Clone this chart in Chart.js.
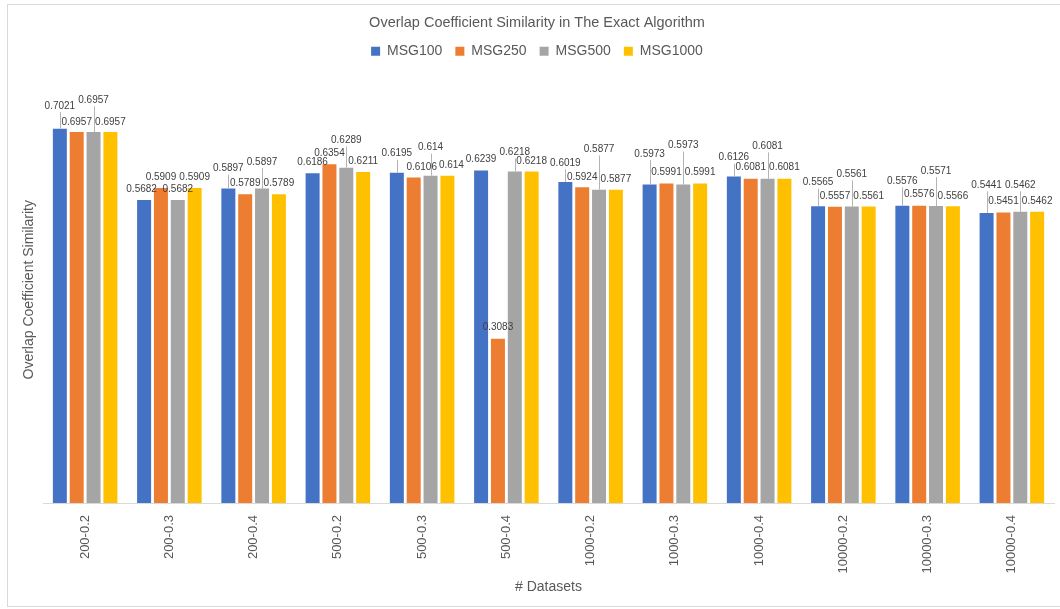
<!DOCTYPE html>
<html>
<head>
<meta charset="utf-8">
<title>Overlap Coefficient Similarity in The Exact Algorithm</title>
<script src="https://cdn.jsdelivr.net/npm/chart.js@4/dist/chart.umd.min.js"></script>
<style>
  html, body { margin: 0; padding: 0; background: #ffffff; }
  #wrap { position: relative; width: 1060px; height: 609px; }
</style>
</head>
<body>
<div id="wrap"><canvas id="chart" width="1060" height="609"></canvas></div>
<script>
// Dataset categories (graph size - threshold)
const categories = ['200-0.2', '200-0.3', '200-0.4', '500-0.2', '500-0.3', '500-0.4',
                    '1000-0.2', '1000-0.3', '1000-0.4', '10000-0.2', '10000-0.3', '10000-0.4'];

// Overlap coefficient similarity per minimum support group
const msg100  = [0.7021, 0.5682, 0.5897, 0.6186, 0.6195, 0.6239, 0.6019, 0.5973, 0.6126, 0.5565, 0.5576, 0.5441];
const msg250  = [0.6957, 0.5909, 0.5789, 0.6354, 0.6106, 0.3083, 0.5924, 0.5991, 0.6081, 0.5557, 0.5576, 0.5451];
const msg500  = [0.6957, 0.5682, 0.5897, 0.6289, 0.614,  0.6218, 0.5877, 0.5973, 0.6081, 0.5561, 0.5571, 0.5462];
const msg1000 = [0.6957, 0.5909, 0.5789, 0.6211, 0.614,  0.6218, 0.5877, 0.5991, 0.6081, 0.5561, 0.5566, 0.5462];

const seriesNames = ['MSG100', 'MSG250', 'MSG500', 'MSG1000'];

// Label placement: distance (px) of each value label's centre above its bar top,
// and horizontal nudges; labels lifted well clear get a leader line.
const labelLift = [
  [22.6, 10.4, 19.9, 11.1, 19.0, 11.0, 19.0, 30.5, 18.7, 23.7, 24.4, 27.6],
  [10.0, 10.3, 10.7, 10.6, 10.4, 11.1, 10.1, 10.9, 11.1, 10.7, 11.4, 11.1],
  [31.7, 10.4, 26.5, 27.3, 28.0, 18.8, 40.3, 38.9, 32.4, 32.2, 34.9, 26.5],
  [10.0, 10.3, 10.7, 10.5, 10.3, 10.4, 10.6, 10.9, 11.1, 10.5, 10.2, 10.5]
];
const labelShift = [
  [0, -2.5, 0, 0, 0, 0, 0, 0, 0, 0, 0, 0],
  [0, 0, 0, 0, 8, 0, 0, 0, 0, 0, 0, 0],
  [0, 0, 0, 0, 0, 0, 0, 0, 0, 0, 0, 0],
  [0, 0, 0, 0, 4, 0, 0, 0, 0, 0, 0, 0]
];

const colors = ['#4472C4', '#ED7D31', '#A5A5A5', '#FFC000'];
const values = [msg100, msg250, msg500, msg1000];
const FONT = "'Liberation Sans', Arial, sans-serif";

// Outer frame and white background
const framePlugin = {
  id: 'frame',
  beforeDraw(chart) {
    const ctx = chart.ctx;
    ctx.save();
    ctx.fillStyle = '#ffffff';
    ctx.fillRect(0, 0, chart.width, chart.height);
    ctx.strokeStyle = '#d9d9d9';
    ctx.lineWidth = 1;
    ctx.strokeRect(7.5, 4.5, chart.width + 20, 602);
    ctx.restore();
  }
};

// Value labels above bars, with leader lines for lifted labels
const valueLabelPlugin = {
  id: 'valueLabels',
  afterDatasetsDraw(chart) {
    const ctx = chart.ctx;
    ctx.save();
    ctx.font = '10px ' + FONT;
    ctx.textAlign = 'center';
    ctx.textBaseline = 'middle';
    chart.data.datasets.forEach((ds, di) => {
      const meta = chart.getDatasetMeta(di);
      meta.data.forEach((bar, i) => {
        const lift = labelLift[di][i];
        const cx = bar.x + labelShift[di][i];
        const cy = bar.y - lift;
        if (lift > 15) {
          ctx.strokeStyle = '#b4b4b4';
          ctx.lineWidth = 1;
          ctx.beginPath();
          const lx = Math.round(bar.x) + 0.5;
          ctx.moveTo(lx, cy + 6);
          ctx.lineTo(lx, bar.y);
          ctx.stroke();
        }
        ctx.fillStyle = '#404040';
        ctx.fillText(String(ds.data[i]), cx, cy);
      });
    });
    ctx.restore();
  }
};

new Chart(document.getElementById('chart'), {
  type: 'bar',
  data: {
    labels: categories,
    datasets: seriesNames.map((name, k) => ({
      label: name,
      data: values[k],
      backgroundColor: colors[k],
      borderWidth: 0,
      categoryPercentage: 0.8,
      barPercentage: 0.83
    }))
  },
  options: {
    responsive: false,
    animation: false,
    devicePixelRatio: 1,
    layout: { padding: { left: 20, right: 6, top: 0, bottom: 8 } },
    plugins: {
      title: {
        display: true,
        text: 'Overlap Coefficient Similarity in The Exact Algorithm',
        color: '#595959',
        font: { family: FONT, size: 14.5, weight: 'normal', lineHeight: 1.0 },
        padding: { top: 16, bottom: 0.7 }
      },
      subtitle: {
        display: true,
        text: ' ',
        weight: 500,
        font: { size: 1, lineHeight: 1 },
        padding: { top: 0, bottom: 7.3 }
      },
      legend: {
        position: 'top',
        labels: {
          color: '#595959',
          font: { family: FONT, size: 14 },
          boxWidth: 9,
          boxHeight: 9,
          padding: 13
        }
      },
      tooltip: { enabled: false }
    },
    scales: {
      x: {
        grid: { display: false, drawTicks: false },
        border: { display: true, color: '#d9d9d9', width: 1 },
        ticks: {
          color: '#595959',
          font: { family: FONT, size: 13 },
          minRotation: 90,
          maxRotation: 90,
          autoSkip: false,
          padding: 12
        },
        title: {
          display: true,
          text: '# Datasets',
          color: '#595959',
          font: { family: FONT, size: 14 },
          padding: { top: 0, bottom: 5.3 }
        },
        afterFit(scale) { scale.height = 98; }
      },
      y: {
        min: 0,
        max: 0.8,
        grid: { display: false, drawTicks: false },
        border: { display: false },
        ticks: { display: false },
        title: {
          display: true,
          text: 'Overlap Coefficient Similarity',
          color: '#595959',
          font: { family: FONT, size: 14 },
          padding: { top: 1.1, bottom: 0 }
        },
        afterFit(scale) { scale.width = 23; }
      }
    }
  },
  plugins: [framePlugin, valueLabelPlugin]
});
</script>
</body>
</html>
